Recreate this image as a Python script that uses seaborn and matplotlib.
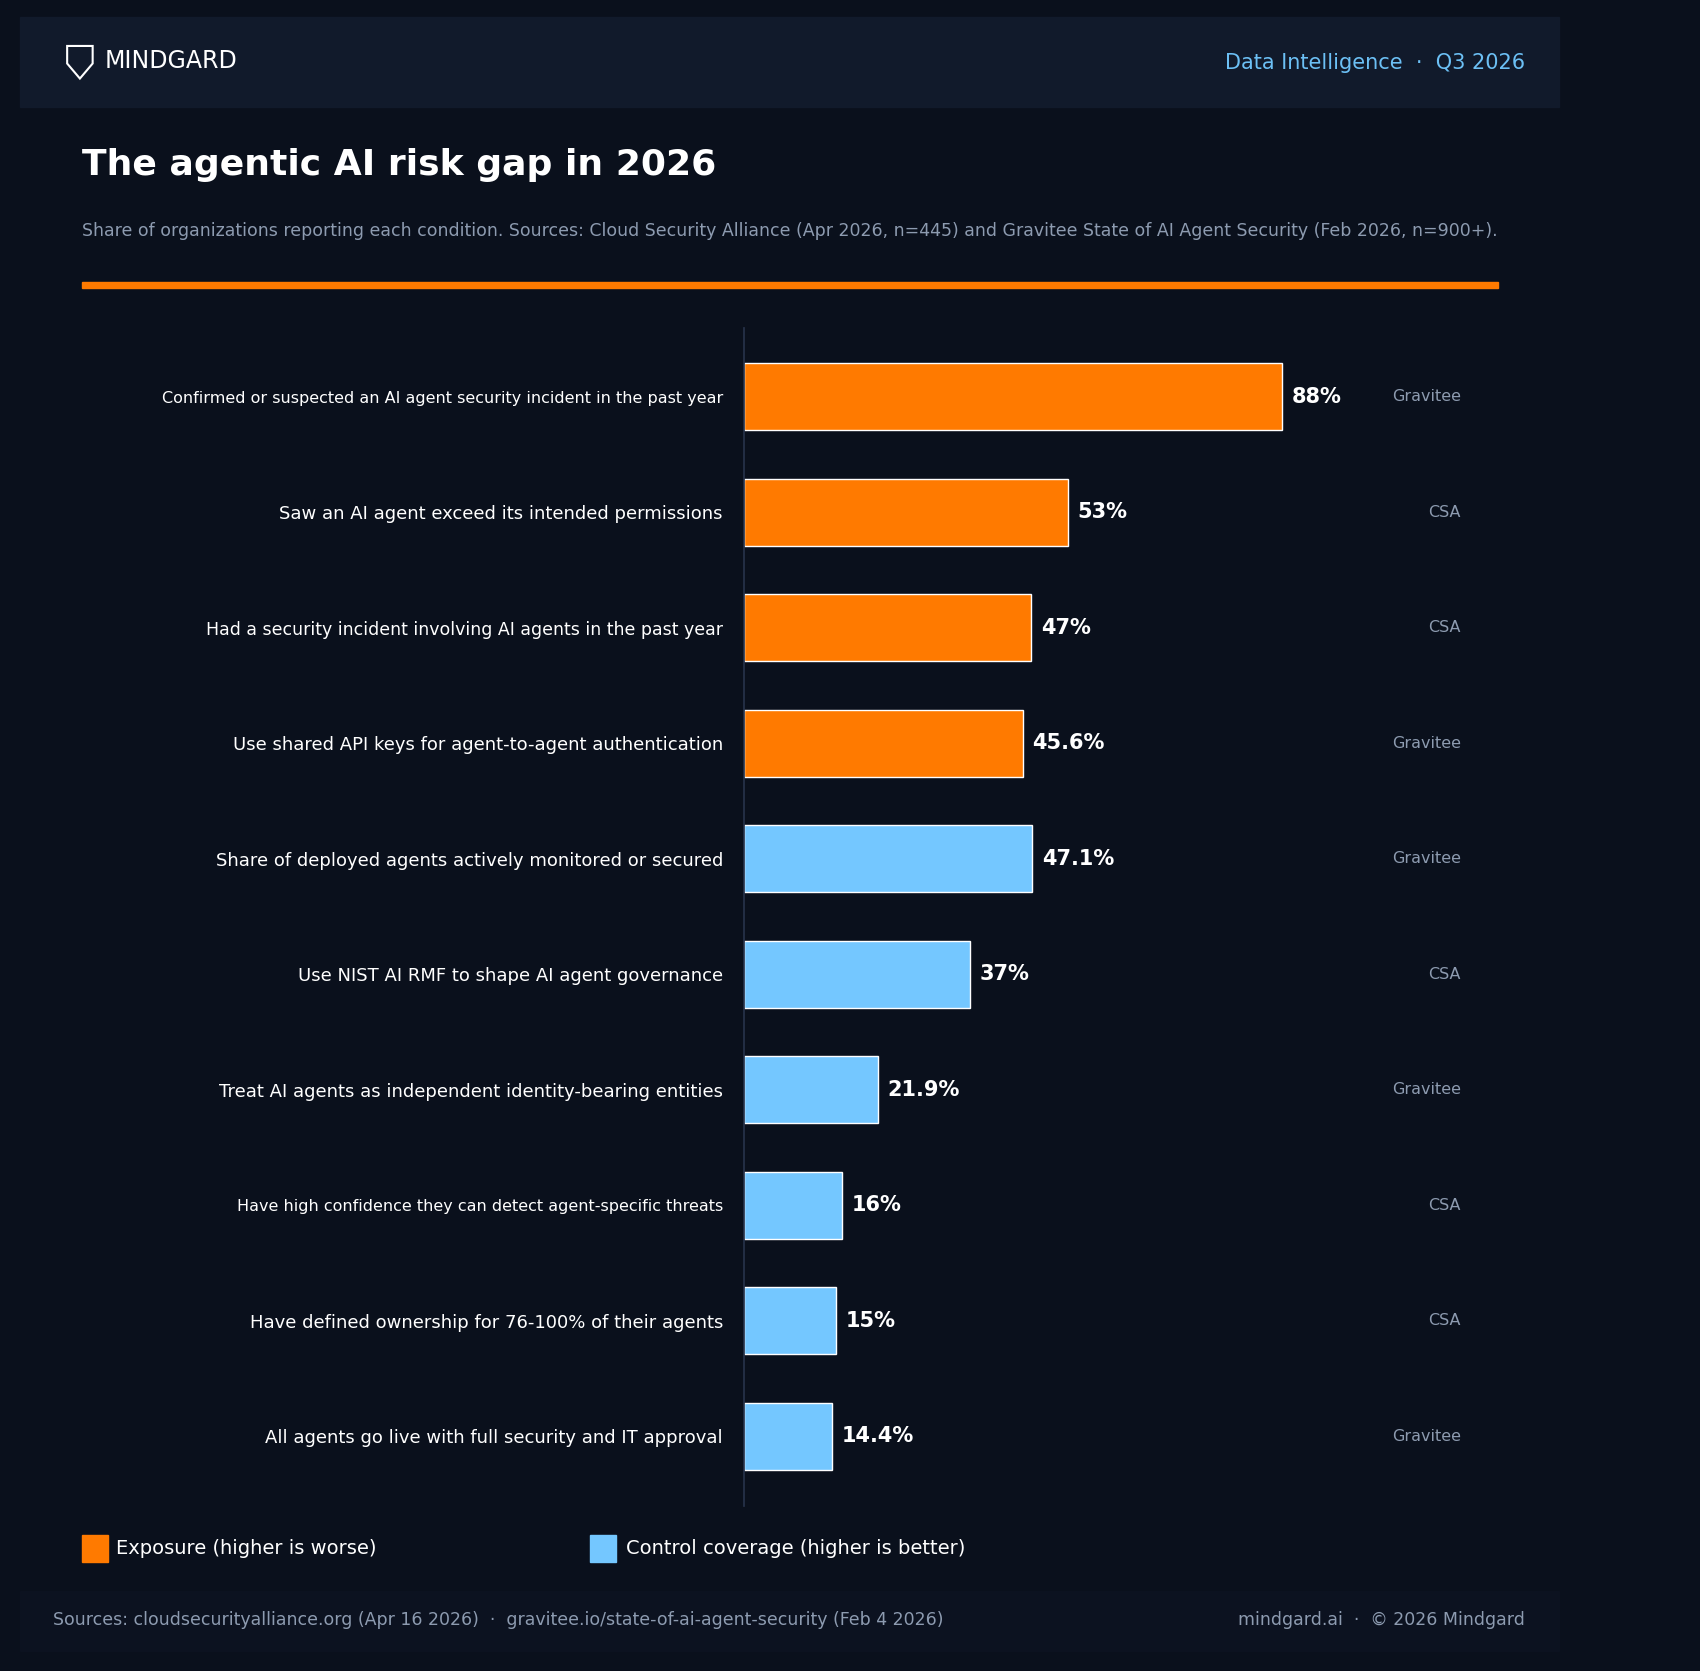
import matplotlib
matplotlib.use('Agg')
import matplotlib.pyplot as plt
import seaborn as sns
import pandas as pd
from matplotlib.patches import Rectangle, Polygon

sns.set_theme(style='dark')
plt.rcParams['font.family'] = ['DejaVu Sans']

BG = '#0a101c'
HEAD = '#111a2b'
ORANGE = '#ff7a00'
BLUE = '#74c7ff'
GREY = '#8d9bb0'

labels = [
    'Confirmed or suspected an AI agent security incident in the past year',
    'Saw an AI agent exceed its intended permissions',
    'Had a security incident involving AI agents in the past year',
    'Use shared API keys for agent-to-agent authentication',
    'Share of deployed agents actively monitored or secured',
    'Use NIST AI RMF to shape AI agent governance',
    'Treat AI agents as independent identity-bearing entities',
    'Have high confidence they can detect agent-specific threats',
    'Have defined ownership for 76-100% of their agents',
    'All agents go live with full security and IT approval',
]
values = [88, 53, 47, 45.6, 47.1, 37, 21.9, 16, 15, 14.4]
value_text = ['88%', '53%', '47%', '45.6%', '47.1%', '37%', '21.9%', '16%', '15%', '14.4%']
groups = ['Exposure'] * 4 + ['Control'] * 6
sources = ['Gravitee', 'CSA', 'CSA', 'Gravitee', 'Gravitee', 'CSA', 'Gravitee', 'CSA', 'CSA', 'Gravitee']
label_sizes = [11.5, 13, 12.5, 13, 13, 13, 13, 11.5, 13, 13]

df = pd.DataFrame({'label': labels, 'value': values, 'group': groups})

fig = plt.figure(figsize=(17, 16.71), dpi=100)
fig.patch.set_facecolor(BG)

# header / footer bands
fig.patches.append(Rectangle((0.0115, 0.9358), 0.9055, 0.0538, transform=fig.transFigure, color=HEAD, zorder=0))
fig.patches.append(Rectangle((0.0115, 0.0117), 0.9055, 0.0363, transform=fig.transFigure, color='#0c1220', zorder=0))
fig.patches.append(Polygon([(0.0395, 0.9725), (0.0545, 0.9725), (0.0545, 0.9620), (0.0470, 0.9530), (0.0395, 0.9620)],
                           closed=True, transform=fig.transFigure, facecolor='none', edgecolor='white', lw=1.5))
fig.text(0.0615, 0.9635, 'MINDGARD', color='white', fontsize=17, va='center')
fig.text(0.897, 0.9625, 'Data Intelligence  ·  Q3 2026', color='#6cc0f5', fontsize=15, va='center', ha='right')

fig.text(0.048, 0.901, 'The agentic AI risk gap in 2026', color='white', fontsize=26, fontweight='bold', va='center')
fig.text(0.048, 0.862, 'Share of organizations reporting each condition. Sources: Cloud Security Alliance (Apr 2026, n=445) '
         'and Gravitee State of AI Agent Security (Feb 2026, n=900+).', color=GREY, fontsize=12.5, va='center')
fig.patches.append(Rectangle((0.048, 0.8278), 0.833, 0.0036, transform=fig.transFigure, color=ORANGE))

ax = fig.add_axes([0.4375, 0.099, 0.4225, 0.705])
ax.set_facecolor(BG)
sns.barplot(data=df, x='value', y='label', hue='group', palette={'Exposure': ORANGE, 'Control': BLUE},
            dodge=False, legend=False, width=0.58, saturation=1, ax=ax)
ax.set_xlim(0, 117.4)
ax.set_ylim(9.6, -0.6)
ax.set_xlabel('')
ax.set_ylabel('')
ax.set_xticks([])
ax.grid(False)
for s in ['top', 'right', 'bottom']:
    ax.spines[s].set_visible(False)
ax.spines['left'].set_color('#26324a')
ax.tick_params(axis='y', length=0, pad=15)
for t, fs in zip(ax.get_yticklabels(), label_sizes):
    t.set_color('white')
    t.set_fontsize(fs)
for i, (v, vt, src) in enumerate(zip(values, value_text, sources)):
    ax.text(v + 1.6, i, vt, color='white', fontsize=15, fontweight='bold', va='center')
    ax.text(117.2, i, src, color=GREY, fontsize=11.5, va='center', ha='right')

# legend
fig.patches.append(Rectangle((0.048, 0.0655), 0.0155, 0.016, transform=fig.transFigure, color=ORANGE))
fig.text(0.0685, 0.0735, 'Exposure (higher is worse)', color='white', fontsize=14, va='center')
fig.patches.append(Rectangle((0.347, 0.0655), 0.0155, 0.016, transform=fig.transFigure, color=BLUE))
fig.text(0.368, 0.0735, 'Control coverage (higher is better)', color='white', fontsize=14, va='center')

fig.text(0.031, 0.0305, 'Sources: cloudsecurityalliance.org (Apr 16 2026)  ·  gravitee.io/state-of-ai-agent-security (Feb 4 2026)',
         color=GREY, fontsize=12.5, va='center')
fig.text(0.897, 0.0305, 'mindgard.ai  ·  © 2026 Mindgard', color=GREY, fontsize=12.5, va='center', ha='right')

fig.savefig('out.png', dpi=100, facecolor=BG)
